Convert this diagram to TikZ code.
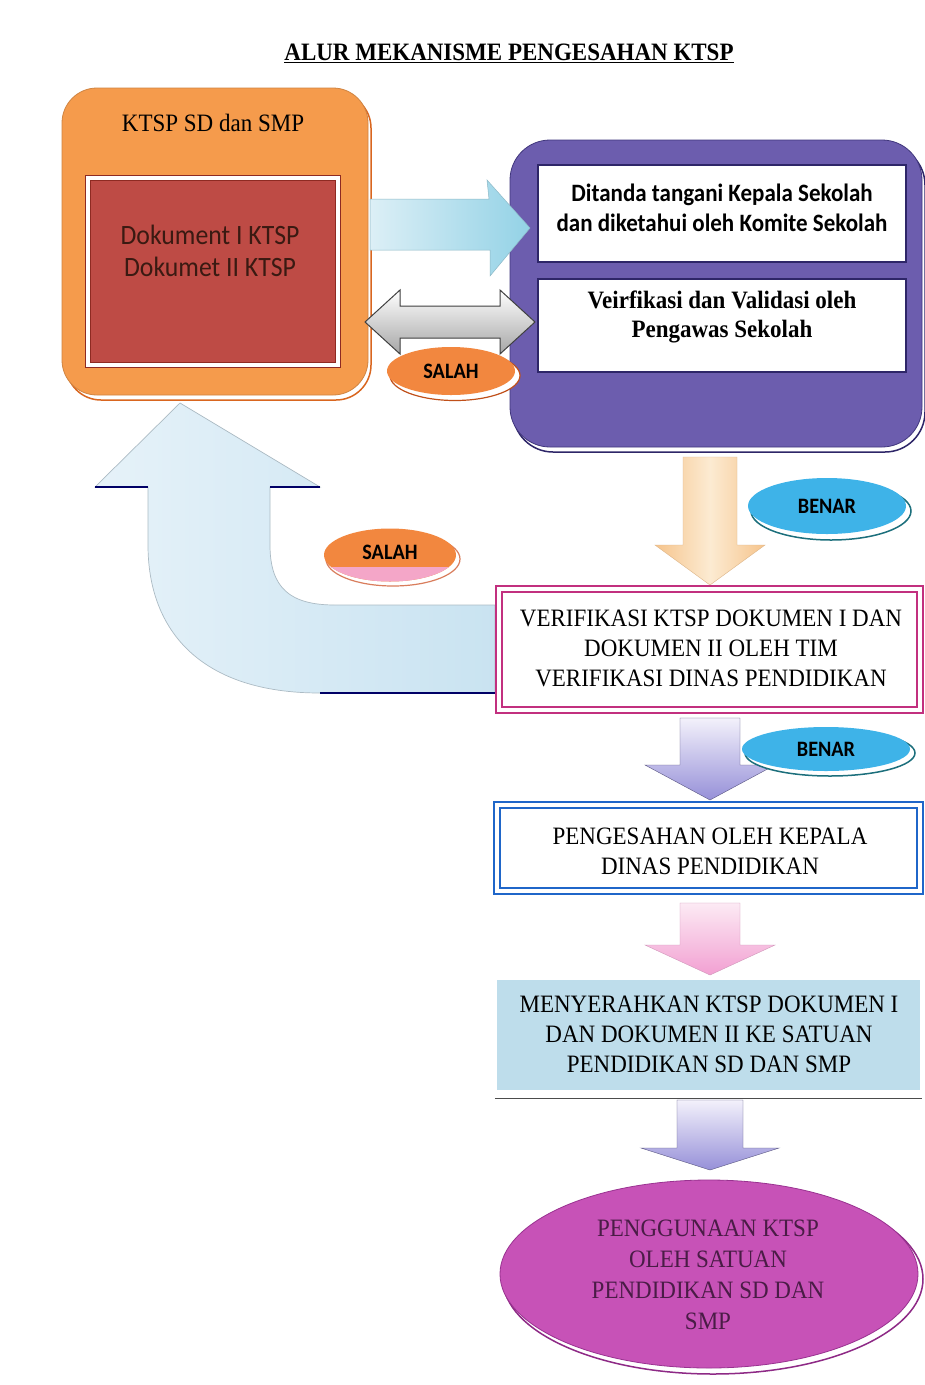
\documentclass[tikz,border=0pt]{standalone}
\usepackage{fontspec}
\setmainfont{Liberation Serif}[FakeStretch=0.92]
\newfontfamily\calfont{Carlito}[FakeStretch=0.92]
\usetikzlibrary{shapes.geometric}
\definecolor{orangeC}{HTML}{F59B4C}
\definecolor{orangeD}{HTML}{D9661F}
\definecolor{redC}{HTML}{BE4B45}
\definecolor{redD}{HTML}{8E2A22}
\definecolor{purpleC}{HTML}{6C5DAE}
\definecolor{purpleD}{HTML}{2E2668}
\definecolor{benarC}{HTML}{3EB3E8}
\definecolor{benarD}{HTML}{1C6F7C}
\definecolor{salahC}{HTML}{F2873F}
\definecolor{salahD}{HTML}{C0501A}
\definecolor{salahP}{HTML}{F4A6C8}
\definecolor{magB}{HTML}{C2307F}
\definecolor{blueB}{HTML}{1F66C9}
\definecolor{menyC}{HTML}{BEDDEB}
\definecolor{ellC}{HTML}{C752B7}
\definecolor{ellD}{HTML}{8E2A86}
\definecolor{ellT}{HTML}{4A1C46}
\definecolor{docT}{HTML}{3A1A12}
\definecolor{cyanL}{HTML}{DCEFF6}
\definecolor{cyanR}{HTML}{93D2E6}
\definecolor{bigL}{HTML}{E6F2F9}
\definecolor{bigR}{HTML}{C9E3F1}
\definecolor{peachS}{HTML}{F6C48C}
\definecolor{peachM}{HTML}{FCEBD2}
\definecolor{lavB}{HTML}{9690D8}
\definecolor{lavT}{HTML}{F3F1FB}
\definecolor{pinkB}{HTML}{F2A0D2}
\definecolor{pinkT}{HTML}{FCEAF4}
\newcommand{\blockdown}[7]{%
  \path[#1] (#2-#4,#3) -- (#2+#4,#3) -- (#2+#4,#6) -- (#2+#5,#6) -- (#2,#7)
    -- (#2-#5,#6) -- (#2-#4,#6) -- cycle;}
\begin{document}
\begin{tikzpicture}[x=1pt,y=-1pt,
  serif/.style={font=\fontsize{25}{30}\selectfont, align=center, inner sep=0pt},
  sans/.style={font=\calfont\bfseries\fontsize{25}{30}\selectfont, align=center, inner sep=0pt},
  tag/.style={ellipse, font=\calfont\bfseries\fontsize{22}{26}\selectfont, inner sep=0pt},
  whitebox/.style={draw=purpleD, fill=white, line width=1.2pt, inner sep=0pt},
  dbox/.style={fill=white, double=white, double distance=3.5pt, line width=1.8pt, inner sep=0pt},
]
\useasboundingbox (0,0) rectangle (925,1385);
\fill[white] (0,0) rectangle (925,1385);

% title
\node[font=\bfseries\fontsize{25}{30}\selectfont, inner sep=0pt] (title) at (509,53)
  {\underline{ALUR MEKANISME PENGESAHAN KTSP}};

% orange box
\draw[fill=white, draw=orangeD, line width=1.5pt, rounded corners=35] (66,93) rectangle (371,400);
\node[fill=orangeC, draw=orangeC!85!black, line width=0.8pt, rounded corners=35,
  minimum width=306pt, minimum height=307pt, inner sep=0pt] (ktsp) at (215,241.5) {};
\node[serif] (ktsplabel) at (213,123) {KTSP SD dan SMP};
\node[fill=white, draw=redD, line width=0.8pt, minimum width=255pt, minimum height=192pt, inner sep=0pt]
  (docframe) at (212.5,271) {};
\node[fill=redC, draw=redD, line width=1pt, minimum width=245pt, minimum height=182pt, inner sep=0pt]
  (doc) at (212.5,271) {};
\node[font=\calfont\fontsize{28}{32}\selectfont, align=center, text=docT, inner sep=0pt]
  (doctext) at (210,251) {Dokument I KTSP\\Dokumet II KTSP};

% purple box
\draw[fill=white, draw=purpleD, line width=1.5pt, rounded corners=40] (513,145) rectangle (925,452);
\node[fill=purpleC, draw=purpleD!70!purpleC, line width=0.8pt, rounded corners=40,
  minimum width=412pt, minimum height=307pt, inner sep=0pt] (pbox) at (716,293.5) {};
\node[whitebox, minimum width=368pt, minimum height=97pt] (ttd) at (722,213.5) {};
\node[sans] (ttdtext) at (722,207.5) {Ditanda tangani Kepala Sekolah\\dan diketahui oleh Komite Sekolah};
\node[whitebox, minimum width=368pt, minimum height=93pt] (val) at (722,325.5) {};
\node[serif, font=\bfseries\fontsize{25}{29}\selectfont] (valtext) at (722,316.5)
  {Veirfikasi dan Validasi oleh\\Pengawas Sekolah};

% cyan right arrow (ktsp -> ttd)
\shade[left color=cyanL, right color=cyanR, draw=cyanR!70!gray, line width=0.5pt]
  (370,199) -- (489,199) -- (487,180) -- (530,228) -- (490,276) -- (490,250) -- (370,250) -- cycle;

% gray double arrow (val <-> ktsp)
\shade[top color=white, bottom color=gray!70, draw=black!75, line width=1pt]
  (365,322) -- (400,290) -- (400,306) -- (500,306) -- (500,290) -- (535,322)
  -- (500,354) -- (500,338) -- (400,338) -- (400,354) -- cycle;

% SALAH 1
\fill[white, draw=salahD, line width=1.2pt] (455,375.5) ellipse (65 and 25);
\node[tag, fill=salahC, minimum width=128pt, minimum height=48pt] (salah1) at (451,371) {SALAH};

% peach down arrow
\blockdown{left color=peachS, right color=peachS, middle color=peachM, draw=peachS!80!gray}{710}{457}{27}{55}{545}{585}

% BENAR 1
\fill[white, draw=benarD, line width=1.5pt] (831,511) ellipse (80 and 29);
\node[tag, fill=benarC, minimum width=158pt, minimum height=56pt] (benar1) at (827,506) {BENAR};

% big curved arrow (verif -> ktsp)
\shade[left color=bigL, right color=bigR, draw=bigR!60!gray, line width=0.7pt]
  (180,403) -- (320,487) -- (270,487) -- (270,545)
  .. controls (270,588) and (290,605) .. (335,605) -- (495,605) -- (495,693) -- (320,693)
  .. controls (200,693) and (148,630) .. (148,545) -- (148,487) -- (95,487) -- cycle;
\draw[blue!40!black, line width=1.4pt] (95,487) -- (148,487);
\draw[blue!40!black, line width=1.4pt] (270,487) -- (320,487);
\draw[blue!40!black, line width=1.4pt] (320,693) -- (495,693);

% SALAH 2
\fill[white, draw=salahD!60!pink, line width=1.2pt] (393,559) ellipse (67 and 27);
\begin{scope}
  \clip (390,555) ellipse (66 and 26.5);
  \fill[salahC] (320,525) rectangle (460,585);
  \fill[salahP] (320,567) rectangle (460,585);
\end{scope}
\node[tag, minimum width=132pt, minimum height=53pt] (salah2) at (390,552) {SALAH};

% verifikasi box
\node[dbox, draw=magB, minimum width=421pt, minimum height=121pt] (verif) at (709.5,649.5) {};
\node[serif] (veriftext) at (711,648)
  {VERIFIKASI KTSP DOKUMEN I DAN\\DOKUMEN II OLEH TIM\\VERIFIKASI DINAS PENDIDIKAN};

% lavender arrow 2
\blockdown{top color=lavT, bottom color=lavB, draw=lavB!60!black}{710}{718}{30}{65}{765}{800}

% BENAR 2
\fill[white, draw=benarD, line width=1.5pt] (830,753) ellipse (85 and 23);
\node[tag, fill=benarC, minimum width=168pt, minimum height=44pt] (benar2) at (826,749) {BENAR};

% pengesahan box
\node[dbox, draw=blueB, minimum width=423pt, minimum height=86pt] (sah) at (708.5,848) {};
\node[serif] (sahtext) at (710,851) {PENGESAHAN OLEH KEPALA\\DINAS PENDIDIKAN};

% pink arrow
\blockdown{top color=pinkT, bottom color=pinkB, draw=pinkB!70!gray}{710}{903}{30}{65}{945}{975}

% menyerahkan box
\node[fill=menyC, minimum width=423pt, minimum height=110pt, inner sep=0pt] (meny) at (708.5,1035) {};
\draw[black!70, line width=1pt] (meny.south west) ++(-2,8) -- ++(427,0);
\node[serif] (menytext) at (709,1034)
  {MENYERAHKAN KTSP DOKUMEN I\\DAN DOKUMEN II KE SATUAN\\PENDIDIKAN SD DAN SMP};

% lavender arrow 4
\blockdown{top color=lavT, bottom color=lavB, draw=lavB!60!black}{710}{1100}{33}{69}{1148}{1170}

% final ellipse
\fill[white, draw=ellD, line width=1.5pt] (713,1279) ellipse (210 and 95);
\node[ellipse, fill=ellC, draw=ellD!80!ellC, line width=0.8pt, minimum width=418pt, minimum height=188pt,
  inner sep=0pt] (guna) at (709,1274) {};
\node[serif, text=ellT, font=\fontsize{25}{31}\selectfont] (gunatext) at (708,1275)
  {PENGGUNAAN KTSP\\OLEH SATUAN\\PENDIDIKAN SD DAN\\SMP};
\end{tikzpicture}
\end{document}
